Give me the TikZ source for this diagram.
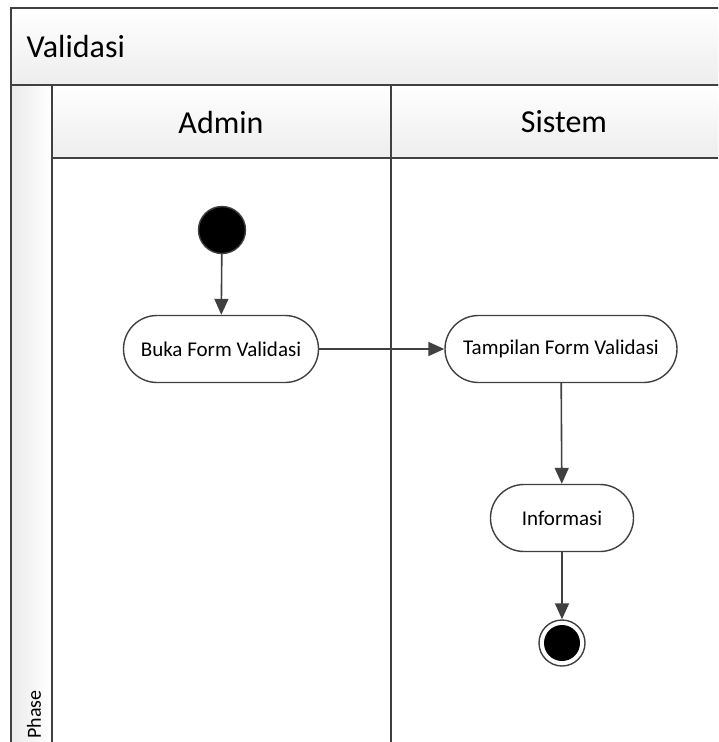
\documentclass[tikz,border=0pt]{standalone}
\usepackage{fontspec}
\setmainfont{Carlito}
\usetikzlibrary{arrows.meta}

\definecolor{lanegray}{HTML}{404040}
\tikzset{
  lane/.style={draw=lanegray, line width=1.6pt},
  header/.style={lane, top color=white, bottom color=black!7},
  action/.style={draw=lanegray, line width=1.4pt, fill=white, rounded corners=33.5pt,
    minimum height=67pt, inner sep=0pt, font=\fontsize{21}{25}\selectfont},
  flow/.style={draw=lanegray, line width=1.6pt, -{Triangle[length=16pt,width=14pt]}},
}

\begin{document}
\begin{tikzpicture}[x=1pt, y=-1pt]
		%%%%% START %%%%%
		
		\useasboundingbox (0, 0) rectangle (718, 742);
		\clip (0, 0) rectangle (718, 742);
		
		\draw[header] (11, 8) rectangle (740, 85);
		\node[anchor=west, font=\fontsize{32}{38}\selectfont] (pool) at (23, 47) {Validasi};
		
		\draw[lane, left color=black!8, right color=white] (11, 85) rectangle (52, 760);
		\node[rotate=90, anchor=west, font=\fontsize{20}{24}\selectfont] (phase) at (34, 742) {Phase};
		
		\draw[header] (52, 85) rectangle (391, 158);
		\draw[header] (391, 85) rectangle (740, 158);
		\node[font=\fontsize{32}{38}\selectfont] (admin) at (221, 122) {Admin};
		\node[font=\fontsize{32}{38}\selectfont] (sistem) at (564, 122) {Sistem};
		
		\draw[lane] (52, 158) -- (52, 760);
		\draw[lane] (391, 158) -- (391, 760);
		
		\node[circle, draw=lanegray, line width=1.4pt, fill=black, minimum size=47pt, inner sep=0pt] (start) at (222, 230) {};
		
		\node[action, minimum width=195pt] (buka) at (221, 349) {Buka Form Validasi};
		\node[action, minimum width=232pt] (tampil) at (561, 349) {Tampilan Form Validasi};
		\node[action, minimum width=143pt] (info) at (562, 518) {Informasi};
		
		\node[circle, draw=lanegray, line width=1.4pt, fill=white, minimum size=46pt, inner sep=0pt] (stop) at (562, 643) {};
		\fill[black] (stop) circle (18);
		
		\draw[flow] (start) -- (buka);
		\draw[flow] (buka) -- (tampil);
		\draw[flow] (tampil) -- (info);
		\draw[flow] (info) -- (stop);
		
		%%%%% END %%%%%
	\end{tikzpicture}
\end{document}
